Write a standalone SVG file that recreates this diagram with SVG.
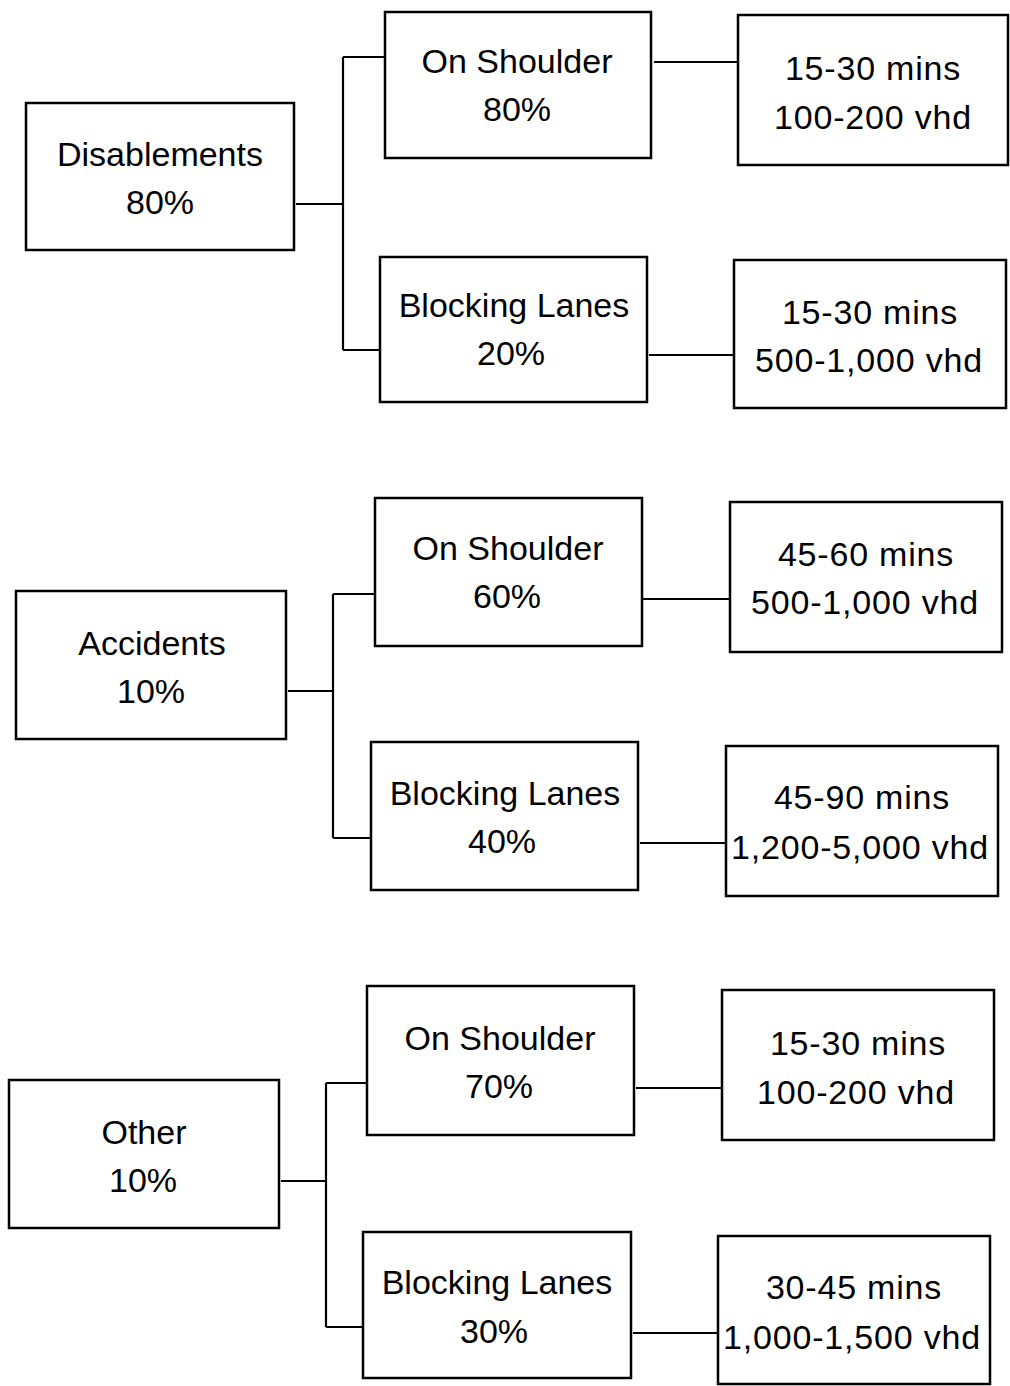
<svg xmlns="http://www.w3.org/2000/svg" width="1010" height="1386" viewBox="0 0 1010 1386">
<style>
.box{fill:#fff;stroke:#000;stroke-width:2.5}
.t{font-family:"Liberation Sans",Arial,sans-serif;font-size:34px;fill:#000;text-anchor:middle}
.r{letter-spacing:0.8px}
.c{fill:none;stroke:#000;stroke-width:2.2}
</style>
<rect width="1010" height="1386" fill="#fff"/>
<g id="connectors">
<path class="c" d="M296 204H343M343 57V350M343 57H388M343 350H383M654 62H741M649 355H737"/>
<path class="c" d="M288 691H333M333 594V838M333 594H377M333 838H374M643 599H731M640 843H728"/>
<path class="c" d="M281 1181H326M326 1083V1327M326 1083H369M326 1327H366M636 1088H724M633 1333H720"/>
</g>
<g id="disablements"><rect class="box" x="26" y="103" width="268" height="147"/><text class="t" x="160" y="166">Disablements</text><text class="t" x="160" y="214">80%</text></g>
<g id="d-shoulder"><rect class="box" x="385" y="12" width="266" height="146"/><text class="t" x="517" y="73">On Shoulder</text><text class="t" x="517" y="121">80%</text></g>
<g id="d-blocking"><rect class="box" x="380" y="257" width="267" height="145"/><text class="t" x="514" y="317">Blocking Lanes</text><text class="t" x="511" y="365">20%</text></g>
<g id="d-shoulder-impact"><rect class="box" x="738" y="15" width="270" height="150"/><text class="t r" x="873" y="80">15-30 mins</text><text class="t r" x="873" y="129">100-200 vhd</text></g>
<g id="d-blocking-impact"><rect class="box" x="734" y="260" width="272" height="148"/><text class="t r" x="870" y="324">15-30 mins</text><text class="t r" x="869" y="372">500-1,000 vhd</text></g>

<g id="accidents"><rect class="box" x="16" y="591" width="270" height="148"/><text class="t" x="152" y="655">Accidents</text><text class="t" x="151" y="703">10%</text></g>
<g id="a-shoulder"><rect class="box" x="375" y="498" width="267" height="148"/><text class="t" x="508" y="560">On Shoulder</text><text class="t" x="507" y="608">60%</text></g>
<g id="a-blocking"><rect class="box" x="371" y="742" width="267" height="148"/><text class="t" x="505" y="805">Blocking Lanes</text><text class="t" x="502" y="853">40%</text></g>
<g id="a-shoulder-impact"><rect class="box" x="730" y="502" width="272" height="150"/><text class="t r" x="866" y="566">45-60 mins</text><text class="t r" x="865" y="614">500-1,000 vhd</text></g>
<g id="a-blocking-impact"><rect class="box" x="726" y="746" width="272" height="150"/><text class="t r" x="862" y="809">45-90 mins</text><text class="t r" x="860" y="859">1,200-5,000 vhd</text></g>

<g id="other"><rect class="box" x="9" y="1080" width="270" height="148"/><text class="t" x="144" y="1144">Other</text><text class="t" x="143" y="1192">10%</text></g>
<g id="o-shoulder"><rect class="box" x="367" y="986" width="267" height="149"/><text class="t" x="500" y="1050">On Shoulder</text><text class="t" x="499" y="1098">70%</text></g>
<g id="o-blocking"><rect class="box" x="363" y="1232" width="268" height="146"/><text class="t" x="497" y="1294">Blocking Lanes</text><text class="t" x="494" y="1343">30%</text></g>
<g id="o-shoulder-impact"><rect class="box" x="722" y="990" width="272" height="150"/><text class="t r" x="858" y="1055">15-30 mins</text><text class="t r" x="856" y="1104">100-200 vhd</text></g>
<g id="o-blocking-impact"><rect class="box" x="718" y="1236" width="272" height="148"/><text class="t r" x="854" y="1299">30-45 mins</text><text class="t r" x="852" y="1349">1,000-1,500 vhd</text></g>
</svg>
